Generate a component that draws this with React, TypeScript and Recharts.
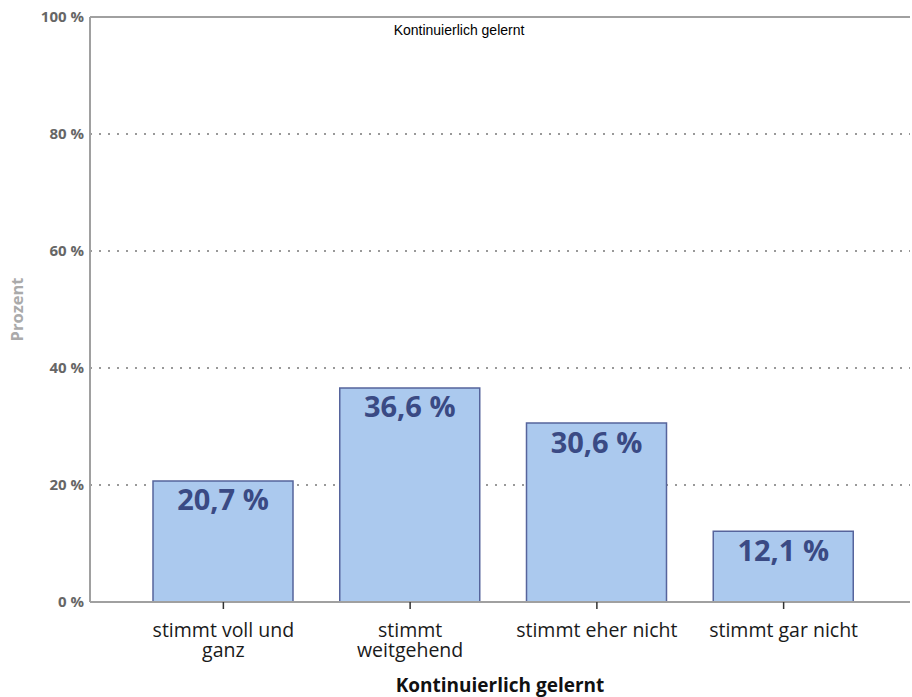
import React from 'react';
import {
  BarChart, Bar, XAxis, YAxis, CartesianGrid, ReferenceLine, LabelList, Label
} from 'recharts';

// Daten aus der Grafik
const categories = ['stimmt voll und ganz', 'stimmt weitgehend', 'stimmt eher nicht', 'stimmt gar nicht'];
const categoryLines = [['stimmt voll und', 'ganz'], ['stimmt', 'weitgehend'], ['stimmt eher nicht'], ['stimmt gar nicht']];
const percentValues = [20.7, 36.6, 30.6, 12.1];
const yTicks = [0, 20, 40, 60, 80, 100];

const chartTitle = 'Kontinuierlich gelernt';
const xTitle = 'Kontinuierlich gelernt';
const yTitle = 'Prozent';

const FONT = '"Open Sans", "Noto Sans", sans-serif';

const data = categories.map((name, i) => ({ name, value: percentValues[i] }));

const CategoryTick = (props: any) => {
  const { x, y, index } = props;
  const lines = categoryLines[index] || [String(props.payload.value)];
  return (
    <g>
      {lines.map((line: string, i: number) => (
        <text key={i} x={x} y={y + 26 + i * 20} textAnchor="middle" fill="#1a1a1a" fontSize={19.5} fontFamily={FONT}>
          {line}
        </text>
      ))}
    </g>
  );
};

const formatPercent = (v: any) => `${String(v).replace('.', ',')} %`;

export default function App() {
  return (
    <div style={{ position: 'absolute', left: 0, top: 0, width: 912, height: 697, background: '#fff' }}>
      <div style={{
        position: 'absolute', left: 0, width: 918, top: 22, textAlign: 'center',
        fontFamily: '"Liberation Sans", Arial, sans-serif', fontSize: 14, lineHeight: '16px', color: '#000', zIndex: 2
      }}>
        {chartTitle}
      </div>
      <BarChart
        width={912}
        height={697}
        data={data}
        margin={{ top: 17, right: 2, left: 0, bottom: 0 }}
        barSize={140}
      >
        <CartesianGrid vertical={false} stroke="#999" strokeWidth={2} strokeDasharray="2 7" />
        <XAxis
          dataKey="name"
          height={95}
          padding={{ left: 40, right: 33 }}
          axisLine={{ stroke: '#a0a0a0', strokeWidth: 2 }}
          tickLine={{ stroke: '#333', strokeWidth: 1.5 }}
          tickSize={7}
          tick={<CategoryTick />}
          interval={0}
        >
          <Label
            value={xTitle}
            position="insideBottom"
            offset={5}
            style={{ fontFamily: FONT, fontSize: 19, fontWeight: 700, fill: '#111' }}
          />
        </XAxis>
        <YAxis
          width={90}
          domain={[0, 100]}
          ticks={yTicks}
          interval={0}
          tickFormatter={(v) => `${v} %`}
          axisLine={{ stroke: '#a0a0a0', strokeWidth: 2 }}
          tickLine={false}
          tickSize={0}
          tickMargin={6}
          tick={{ fontFamily: FONT, fontSize: 15, fontWeight: 700, fill: '#666' }}
        >
          <Label
            value={yTitle}
            angle={-90}
            position="insideLeft"
            offset={17}
            style={{ fontFamily: FONT, fontSize: 16.5, fontWeight: 700, fill: '#aaa', textAnchor: 'middle' }}
          />
        </YAxis>
        <ReferenceLine y={100} stroke="#a0a0a0" strokeWidth={2} />
        <Bar dataKey="value" fill="#abc9ee" stroke="#56649c" strokeWidth={1.5} isAnimationActive={false}>
          <LabelList
            dataKey="value"
            position="insideTop"
            offset={9}
            formatter={formatPercent}
            style={{ fontFamily: FONT, fontSize: 29, fontWeight: 700, fill: '#3a4a84' }}
          />
        </Bar>
      </BarChart>
    </div>
  );
}
